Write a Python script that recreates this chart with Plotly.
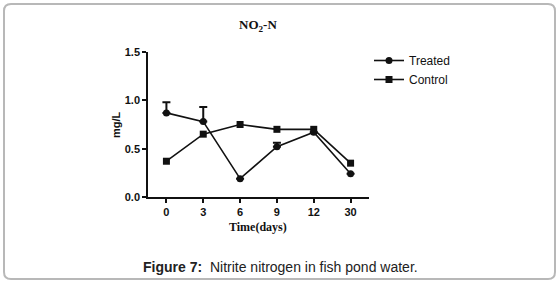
import plotly.graph_objects as go

days = ["0", "3", "6", "9", "12", "30"]
treated = [0.87, 0.78, 0.19, 0.52, 0.67, 0.24]
treated_err = [0.11, 0.15, 0.0, 0.04, 0.0, 0.0]
control = [0.37, 0.65, 0.75, 0.70, 0.70, 0.35]
yticks = [0.0, 0.5, 1.0, 1.5]

W, H = 559, 283
ML, MR, MT, MB = 148, 190, 52, 86
PW = W - ML - MR
PH = H - MT - MB


def px(x):
    return (x - ML) / PW


def py(y):
    return (H - MB - y) / PH


fig = go.Figure()
fig.add_trace(go.Scatter(
    x=days, y=treated, name="Treated", mode="lines+markers",
    line=dict(color="#111", width=1.6),
    marker=dict(symbol="circle", size=7, color="#111"),
    error_y=dict(type="data", symmetric=False, array=treated_err,
                 arrayminus=[0] * len(treated_err), color="#111",
                 thickness=2, width=4),
))
fig.add_trace(go.Scatter(
    x=days, y=control, name="Control", mode="lines+markers",
    line=dict(color="#111", width=1.6),
    marker=dict(symbol="square", size=7, color="#111"),
))

# rounded border
l, r, t, b, rad = 4, 555, 4, 279, 7
path = (f"M {px(l+rad)},{py(t)} L {px(r-rad)},{py(t)} Q {px(r)},{py(t)} {px(r)},{py(t+rad)} "
        f"L {px(r)},{py(b-rad)} Q {px(r)},{py(b)} {px(r-rad)},{py(b)} "
        f"L {px(l+rad)},{py(b)} Q {px(l)},{py(b)} {px(l)},{py(b-rad)} "
        f"L {px(l)},{py(t+rad)} Q {px(l)},{py(t)} {px(l+rad)},{py(t)} Z")
fig.add_shape(type="path", path=path, xref="paper", yref="paper",
              line=dict(color="#b8b8b8", width=2))


def note(x, y, text, font, **kw):
    fig.add_annotation(x=px(x), y=py(y), xref="paper", yref="paper",
                       xanchor="center", yanchor="middle",
                       text=text, showarrow=False, font=font, **kw)


note(258, 25, "<b>NO<sub>2</sub>-N</b>",
     dict(family="Liberation Serif", size=13, color="#111"))
note(258, 227, "<b>Time(days)</b>",
     dict(family="Liberation Serif", size=12, color="#111"))
note(116, 125, "<b>mg/L</b>",
     dict(family="Liberation Sans", size=11, color="#111"), textangle=-90)
note(280, 267, "<b>Figure 7:</b>  Nitrite nitrogen in fish pond water.",
     dict(family="Liberation Sans", size=14, color="#222"))

fig.update_layout(
    width=W, height=H,
    margin=dict(l=ML, r=MR, t=MT, b=MB),
    paper_bgcolor="white", plot_bgcolor="white",
    showlegend=True,
    legend=dict(x=1.0, y=py(46), xanchor="left", yanchor="top",
                font=dict(family="Liberation Sans", size=12, color="#111"),
                bgcolor="rgba(0,0,0,0)", tracegroupgap=0, itemwidth=30),
    xaxis=dict(type="category", range=[-0.5, 5.5], showgrid=False,
               showline=True, linecolor="#111", linewidth=1.5,
               ticks="outside", ticklen=4, tickcolor="#111", tickwidth=1.5,
               tickfont=dict(family="Liberation Sans", size=11, color="#111", weight="bold"),
               zeroline=False),
    yaxis=dict(range=[0, 1.5], tickvals=yticks, ticktext=[f"{v:.1f}" for v in yticks],
               showgrid=False, showline=True, linecolor="#111", linewidth=1.5,
               ticks="outside", ticklen=4, tickcolor="#111", tickwidth=1.5,
               tickfont=dict(family="Liberation Sans", size=11, color="#111", weight="bold"),
               zeroline=False),
)

fig.write_html("out.html", config={"displayModeBar": False},
               post_script="document.body.style.margin='0';")
